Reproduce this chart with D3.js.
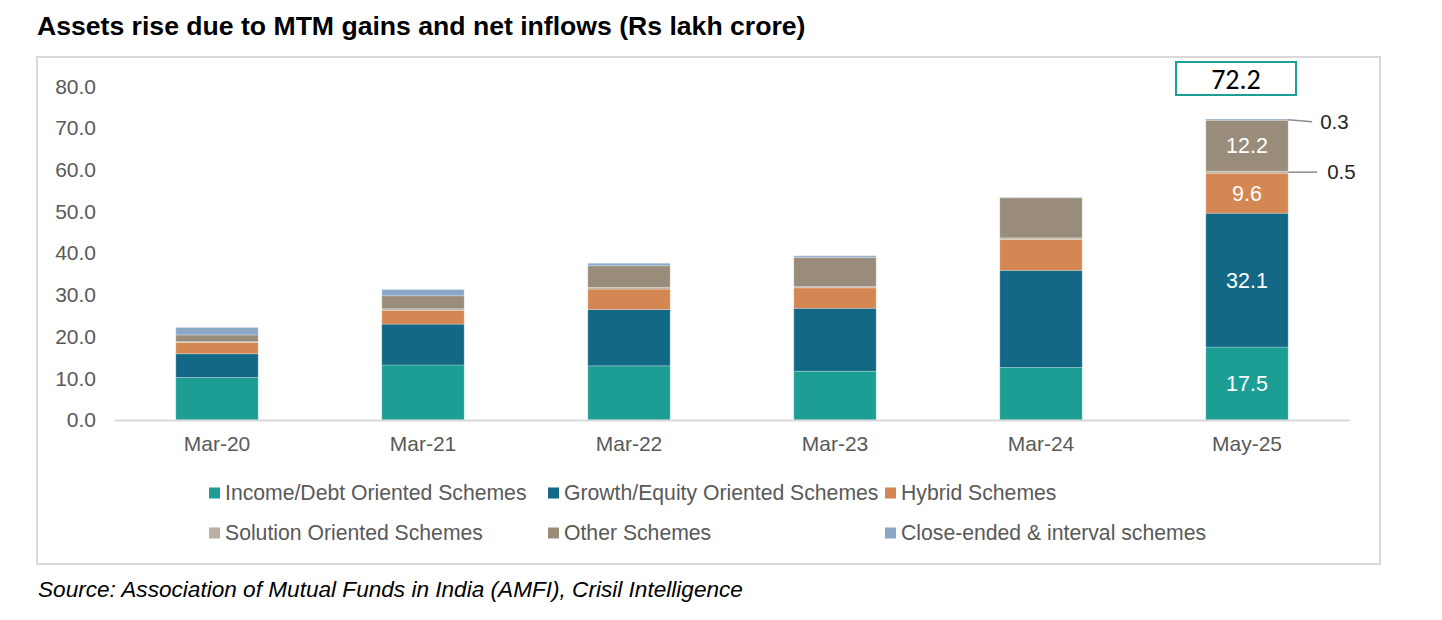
<!DOCTYPE html>
<html><head><meta charset="utf-8">
<script src="https://cdn.jsdelivr.net/npm/d3@7"></script>
<style>
html,body{margin:0;padding:0;background:#fff;}
svg{display:block;font-family:"Liberation Sans",Arial,sans-serif;}
</style></head>
<body>
<svg id="chart" width="1442" height="620"></svg>
<script>
const categories = ["Mar-20","Mar-21","Mar-22","Mar-23","Mar-24","May-25"];
const seriesNames = ["Income/Debt Oriented Schemes","Growth/Equity Oriented Schemes","Hybrid Schemes","Solution Oriented Schemes","Other Schemes","Close-ended & interval schemes"];
const incomeDebt   = [10.2, 13.2, 13.0, 11.7, 12.6, 17.5];
const growthEquity = [5.7, 9.8, 13.5, 15.1, 23.3, 32.1];
const hybrid       = [2.7, 3.3, 4.9, 4.9, 7.4, 9.6];
const solution     = [0.2, 0.4, 0.4, 0.3, 0.4, 0.5];
const other        = [1.6, 3.1, 5.2, 7.0, 9.6, 12.2];
const closeEnded   = [1.8, 1.5, 0.6, 0.4, 0.1, 0.3];
const yTicks = [0,10,20,30,40,50,60,70,80];
const totalLabel = "72.2";
const colors = ["#1c9e95","#136886","#d48752","#b9b0a2","#9a8c7a","#8ba9c7"];

const seriesValues = [incomeDebt, growthEquity, hybrid, solution, other, closeEnded];
const keys = ["k0","k1","k2","k3","k4","k5"];
const table = categories.map((c,i)=>{ const o={cat:c}; keys.forEach((k,j)=>o[k]=seriesValues[j][i]); return o; });
const stacked = d3.stack().keys(keys)(table);

const svg = d3.select("#chart");
svg.append("rect").attr("width",1442).attr("height",620).attr("fill","#fff");

// title
svg.append("text").attr("x",37).attr("y",35).attr("font-size",26.6).attr("font-weight","bold").attr("fill","#000")
  .text("Assets rise due to MTM gains and net inflows (Rs lakh crore)");
// chart frame
svg.append("rect").attr("x",37).attr("y",57).attr("width",1343).attr("height",507)
  .attr("fill","none").attr("stroke","#d9d9d9").attr("stroke-width",2);

const x = d3.scaleBand().domain(categories).range([114,1350]).paddingInner(0.6).paddingOuter(0.3);
const y = d3.scaleLinear().domain([0,80]).range([420,86.5]);

// y axis
const ya = svg.append("g").attr("transform","translate(96,0)")
  .call(d3.axisLeft(y).tickValues(yTicks).tickSize(0).tickPadding(0).tickFormat(d3.format(".1f")));
ya.select(".domain").remove();
ya.selectAll("text").attr("font-size",21).attr("fill","#595959").attr("font-family","Liberation Sans, Arial, sans-serif");

// bars
const layers = svg.append("g").selectAll("g").data(stacked).join("g").attr("fill",(d,i)=>colors[i]);
layers.selectAll("rect").data(d=>d).join("rect")
  .attr("x",d=>x(d.data.cat)).attr("width",x.bandwidth())
  .attr("y",d=>y(d[1])).attr("height",d=>Math.max(0,y(d[0])-y(d[1])))
  .attr("stroke","rgba(255,255,255,0.25)").attr("stroke-width",1);

// x axis
const xa = svg.append("g").attr("transform","translate(0,420)")
  .call(d3.axisBottom(x).tickSize(0).tickPadding(16));
xa.select(".domain").attr("stroke","#d9d9d9").attr("stroke-width",2);
xa.selectAll("text").attr("font-size",21).attr("fill","#595959").attr("font-family","Liberation Sans, Arial, sans-serif");

// inside labels for last bar
const lastIdx = categories.length-1;
const lastCat = categories[lastIdx];
const cx = x(lastCat)+x.bandwidth()/2;
[0,1,2,4].forEach(si=>{
  const seg = stacked[si][lastIdx];
  svg.append("text").attr("x",cx).attr("y",(y(seg[0])+y(seg[1]))/2).attr("dy","0.35em")
    .attr("text-anchor","middle").attr("font-size",21.5).attr("fill","#fff")
    .text(d3.format(".1f")(seriesValues[si][lastIdx]));
});
// leader labels for small segments
const rightX = x(lastCat)+x.bandwidth();
[[5,24,2,32],[3,29,0,39]].forEach(([si,len,dyEnd,tx])=>{
  const seg = stacked[si][lastIdx];
  const ym = (y(seg[0])+y(seg[1]))/2;
  svg.append("line").attr("x1",rightX).attr("y1",ym).attr("x2",rightX+len).attr("y2",ym+dyEnd)
    .attr("stroke","#8c8c8c").attr("stroke-width",1.5);
  svg.append("text").attr("x",rightX+tx).attr("y",ym+dyEnd).attr("dy","0.35em")
    .attr("font-size",20.5).attr("fill","#262626").text(d3.format(".1f")(seriesValues[si][lastIdx]));
});
// total box
const total = d3.sum(seriesValues, s=>s[lastIdx]);
const boxY = y(total) - 57;
const bcx = cx - 11;
svg.append("rect").attr("x",bcx-60).attr("y",boxY).attr("width",120).attr("height",33)
  .attr("fill","#fff").attr("stroke","#1c9e95").attr("stroke-width",2);
svg.append("text").attr("x",bcx).attr("y",boxY+16.5).attr("dy","0.36em").attr("text-anchor","middle")
  .attr("font-size",28).attr("font-weight",500).attr("fill","#000").attr("font-family","Carlito, 'Liberation Sans', Arial, sans-serif").text(totalLabel);

// legend
const legendPos = [[209,493],[548,493],[885,493],[209,533],[548,533],[885,533]];
const lg = svg.append("g").selectAll("g").data(seriesNames).join("g")
  .attr("transform",(d,i)=>`translate(${legendPos[i][0]},${legendPos[i][1]})`);
lg.append("rect").attr("x",0).attr("y",-5.5).attr("width",11).attr("height",11).attr("fill",(d,i)=>colors[i]);
lg.append("text").attr("x",16).attr("y",0).attr("dy","0.35em").attr("font-size",21.2).attr("fill","#595959").text(d=>d);

// source
svg.append("text").attr("x",38).attr("y",597).attr("font-size",22.6).attr("font-style","italic").attr("fill","#000")
  .text("Source: Association of Mutual Funds in India (AMFI), Crisil Intelligence");
</script>
</body></html>
